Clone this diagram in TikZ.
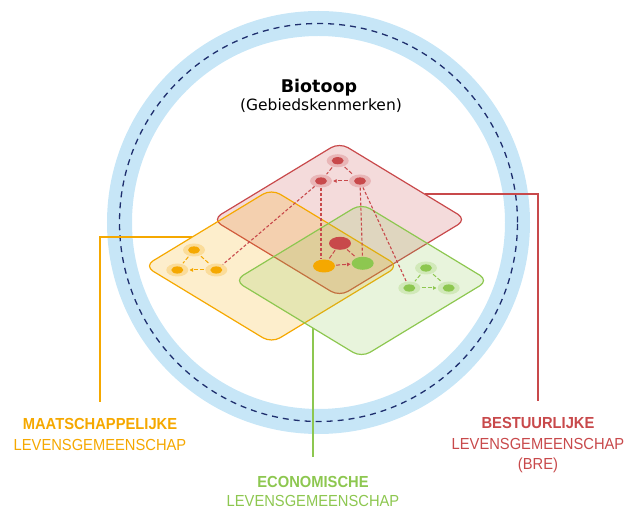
\documentclass[tikz,border=0pt]{standalone}
\usepackage{fontspec}
\setmainfont{DejaVu Sans}
\newfontfamily\lblfont[FakeStretch=0.92]{Liberation Sans}
\usetikzlibrary{arrows.meta,shapes.geometric}
\definecolor{ringblue}{HTML}{C7E6F7}
\definecolor{navy}{HTML}{1F2F6E}
\definecolor{bred}{HTML}{C8494B}
\definecolor{borange}{HTML}{F5A800}
\definecolor{bgreen}{HTML}{8DC750}
\tikzset{
  plane/.style={draw=#1, line width=1.2pt, fill=#1, fill opacity=0.2, rounded corners=10pt},
  halo/.style={ellipse, inner sep=0pt, minimum width=22pt, minimum height=13pt, fill=#1!40!white,
    path picture={\fill[#1] (path picture bounding box.center) ellipse [x radius=6pt, y radius=3.6pt];}},
  core/.style={ellipse, inner sep=0pt, minimum width=22pt, minimum height=13pt, fill=#1},
  clink/.style={draw=#1, line width=1pt, dash pattern=on 4pt off 2pt, shorten <=1pt, shorten >=1pt},
  longlink/.style={draw=bred, line width=1.1pt, dash pattern=on 3pt off 2pt},
  arr/.style={-{Triangle[length=3.5pt,width=3.5pt]}},
  leader/.style={draw=#1, line width=1.2pt},
  lblbold/.style={text=#1, anchor=base, inner sep=0pt, font=\lblfont\bfseries\fontsize{16}{19}\selectfont},
  lblreg/.style={text=#1, anchor=base, inner sep=0pt, font=\lblfont\fontsize{16}{19}\selectfont},
}
\begin{document}
\begin{tikzpicture}[x=1pt,y=-1pt]
\useasboundingbox (0,0) rectangle (627,510);
% ring
\coordinate (c) at (318.5,222.5);
\draw[ringblue, line width=25pt] (c) circle [radius=199pt];
\draw[navy, line width=1.3pt, dash pattern=on 6pt off 5pt] (c) circle [radius=199pt];
% title
\node[anchor=base, font=\bfseries\fontsize{17.5}{20}\selectfont] (title) at (319,93) {Biotoop};
\node[anchor=base, font=\fontsize{15.5}{18}\selectfont] (sub) at (321,111) {(Gebiedskenmerken)};
% labels
\node[lblbold=borange] (mlab1) at (100,430) {MAATSCHAPPELIJKE};
\node[lblreg=borange] (mlab2) at (100,450.5) {LEVENSGEMEENSCHAP};
\node[lblbold=bred] (blab1) at (538,429) {BESTUURLIJKE};
\node[lblreg=bred] (blab2) at (538,449.5) {LEVENSGEMEENSCHAP};
\node[lblreg=bred] (blab3) at (538,469.5) {(BRE)};
\node[lblbold=bgreen] (elab1) at (313,487.5) {ECONOMISCHE};
\node[lblreg=bgreen] (elab2) at (313,506.5) {LEVENSGEMEENSCHAP};
% leader start points on plane edges
\coordinate (mstart) at (192.4,237);
\coordinate (bstart) at (424.5,194);
\coordinate (estart) at (313,328.1);
\draw[leader=borange, shorten >=17pt] (mstart) -| (mlab1.north);
\draw[leader=bred, shorten >=17pt] (bstart) -| (blab1.north);
\draw[leader=bgreen, shorten >=19pt] (estart) -- (elab1.north);
% planes
\path[plane=bred] (339.5,142.5) -- (466.5,219.5) -- (339.5,296.5) -- (212.5,219.5) -- cycle;
\path[plane=borange] (271.5,189) -- (398.5,266) -- (271.5,343) -- (144.5,266) -- cycle;
\path[plane=bgreen] (361.5,203.5) -- (488.5,280.5) -- (361.5,357.5) -- (234.5,280.5) -- cycle;
% nodes
\node[halo=bred] (r1) at (337.7,160.7) {};
\node[halo=bred] (r2) at (321,181) {};
\node[halo=bred] (r3) at (360,181) {};
\node[halo=borange] (o1) at (194,250) {};
\node[halo=borange] (o2) at (177.3,270) {};
\node[halo=borange] (o3) at (216.3,270) {};
\node[halo=bgreen] (g1) at (426,268) {};
\node[halo=bgreen] (g2) at (409.3,288) {};
\node[halo=bgreen] (g3) at (448.7,288) {};
\node[core=bred] (cr) at (340,243.3) {};
\node[core=borange] (co) at (324,266) {};
\node[core=bgreen] (cg) at (362.7,263.3) {};
% long dashed connectors
\draw[longlink] (r2) -- (r2 |- co.north);
\draw[longlink] (r3) -- (cg);
\draw[longlink] (r2) -- (o3);
\draw[longlink] (r3) -- (g2);
% cluster links
\draw[clink=bred] (r1) -- (r2);
\draw[clink=bred] (r1) -- (r3);
\draw[clink=bred, arr] (r3) -- (r2);
\draw[clink=borange] (o1) -- (o2);
\draw[clink=borange] (o1) -- (o3);
\draw[clink=borange, arr] (o3) -- (o2);
\draw[clink=bgreen] (g1) -- (g2);
\draw[clink=bgreen] (g1) -- (g3);
\draw[clink=bgreen, arr] (g2) -- (g3);
\draw[clink=bred] (cr) -- (co);
\draw[clink=bred] (cr) -- (cg);
\draw[clink=bred, arr] (co) -- (cg);
\end{tikzpicture}
\end{document}
